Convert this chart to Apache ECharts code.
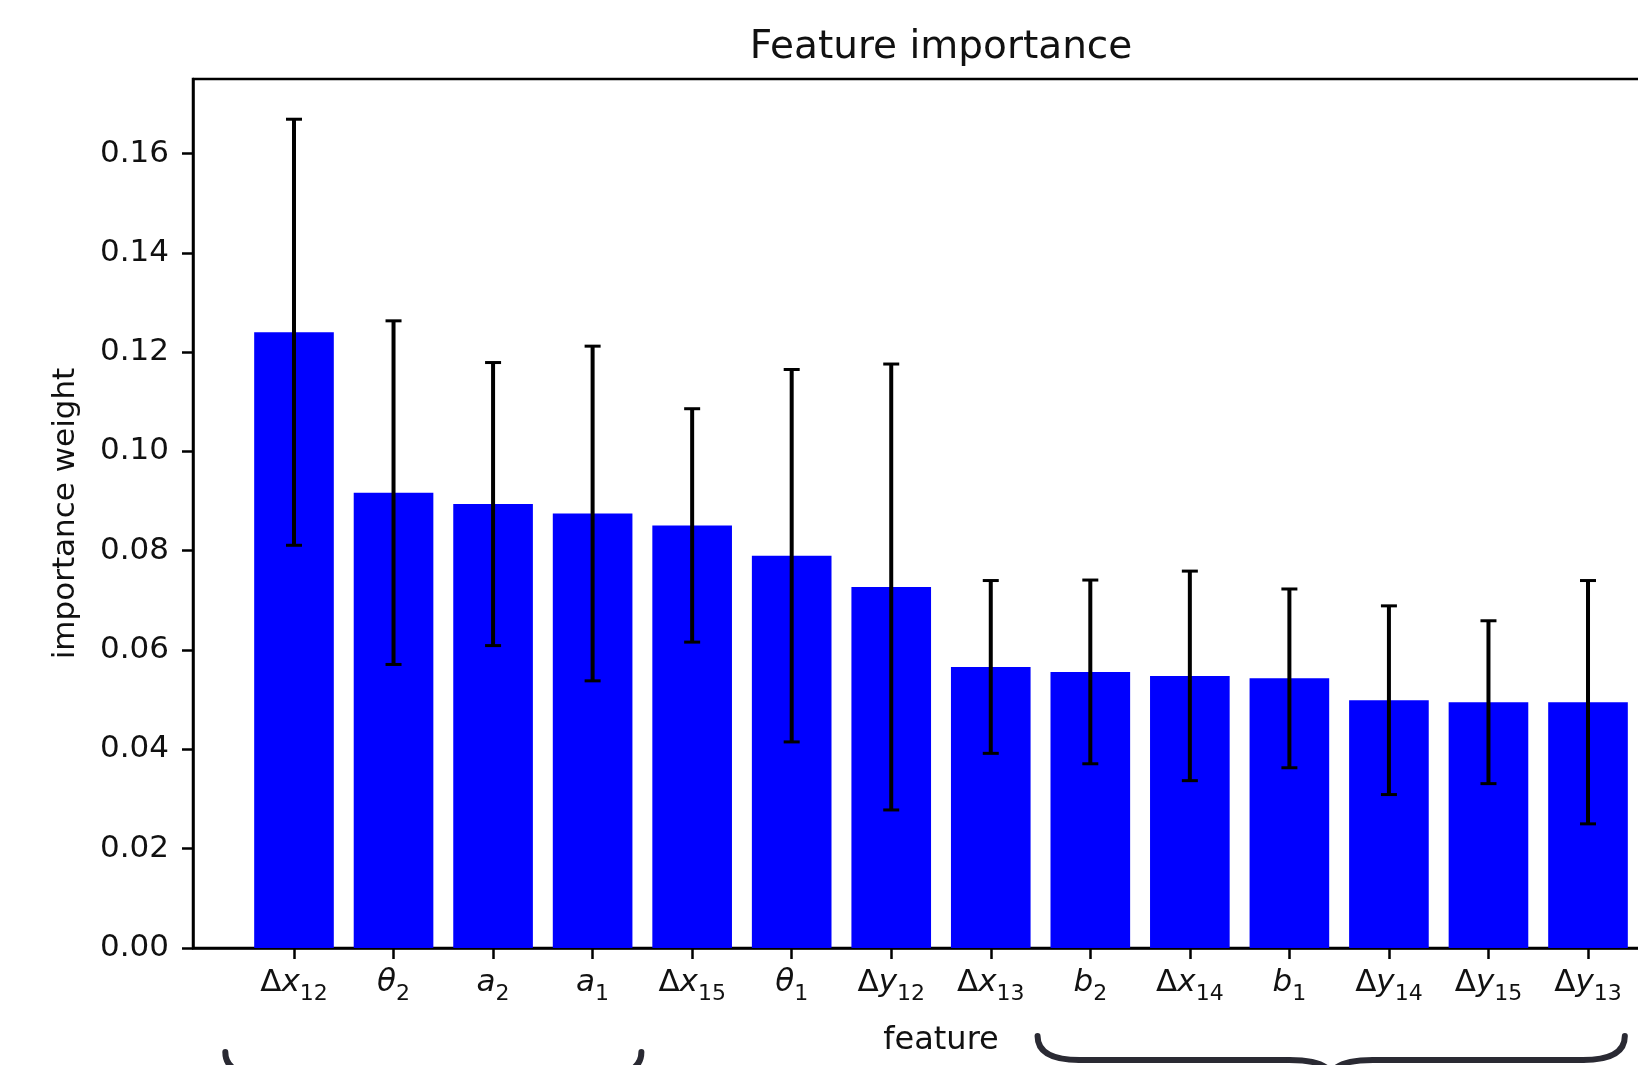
<!DOCTYPE html>
<html>
<head>
<meta charset="utf-8">
<script src="https://cdn.jsdelivr.net/npm/echarts@6/dist/echarts.min.js"></script>
<style>
  html, body { margin: 0; padding: 0; background: #fff; }
  #chart { width: 1638px; height: 1065px; }
</style>
</head>
<body>
<div id="chart"></div>
<script>
// Feature names: prefix (upright), symbol (italic), subscript
const categories = [
  ['Δ', 'x', '12'], ['', 'θ', '2'], ['', 'a', '2'], ['', 'a', '1'],
  ['Δ', 'x', '15'], ['', 'θ', '1'], ['Δ', 'y', '12'], ['Δ', 'x', '13'],
  ['', 'b', '2'], ['Δ', 'x', '14'], ['', 'b', '1'], ['Δ', 'y', '14'],
  ['Δ', 'y', '15'], ['Δ', 'y', '13']
];
// Mean importance weight per feature
const importance = [0.1240, 0.0917, 0.0894, 0.0875, 0.0851, 0.0790, 0.0727,
                    0.0566, 0.0556, 0.0548, 0.0543, 0.0499, 0.0495, 0.0495];
// Standard deviation (error bar half-length)
const stdDev = [0.0429, 0.0346, 0.0285, 0.0337, 0.0235, 0.0375, 0.0449,
                0.0174, 0.0185, 0.0211, 0.0180, 0.0190, 0.0164, 0.0245];
const yTicks = [0, 0.02, 0.04, 0.06, 0.08, 0.10, 0.12, 0.14, 0.16];
// Feature groups marked by braces under the axis (in feature-index units)
const braceSpans = [[-0.69, 3.49], [7.47, 13.37]];

const FONT = 'DejaVu Sans';
const TXT = '#111';
const xTickValues = categories.map((_, i) => i);

function labelFor(i) {
  const c = categories[i];
  if (!c) return '';
  return (c[0] ? '{up|' + c[0] + '}' : '') + '{it|' + c[1] + '}{sub|' + c[2] + '}';
}

const chart = echarts.init(document.getElementById('chart'), null, { renderer: 'canvas' });

const option = {
  backgroundColor: '#fff',
  animation: false,
  title: {
    text: 'Feature importance',
    left: 936,
    textAlign: 'center',
    top: 23,
    textStyle: { fontFamily: FONT, fontSize: 39, fontWeight: 'normal', color: TXT }
  },
  grid: {
    left: 193, top: 79, width: 1496, height: 869,
    outerBoundsMode: 'none',
    containLabel: false,
    show: true, borderColor: '#000', borderWidth: 2.5, backgroundColor: 'transparent'
  },
  xAxis: {
    type: 'value',
    min: -1.0146, max: 14.0146,
    name: 'feature',
    nameLocation: 'middle',
    nameGap: 77,
    nameTextStyle: { fontFamily: FONT, fontSize: 32, color: TXT },
    splitLine: { show: false },
    axisLine: { show: true, onZero: false, lineStyle: { color: '#000', width: 2.5 } },
    axisTick: { show: true, length: 11, lineStyle: { color: '#000', width: 2.5 }, customValues: xTickValues },
    axisLabel: {
      customValues: xTickValues,
      margin: 13,
      formatter: (v) => labelFor(Math.round(v)),
      rich: {
        up: { fontFamily: FONT, fontSize: 31, color: TXT, lineHeight: 32 },
        it: { fontFamily: FONT, fontSize: 31, fontStyle: 'italic', color: TXT, lineHeight: 32 },
        sub: { fontFamily: FONT, fontSize: 22, color: TXT, lineHeight: 44, verticalAlign: 'bottom' }
      }
    }
  },
  yAxis: {
    type: 'value',
    min: 0, max: 0.175,
    name: 'importance weight',
    nameLocation: 'middle',
    nameGap: 112,
    nameTextStyle: { fontFamily: FONT, fontSize: 31, color: TXT },
    splitLine: { show: false },
    axisLine: { show: true, onZero: false, lineStyle: { color: '#000', width: 2.5 } },
    axisTick: { show: true, length: 11, lineStyle: { color: '#000', width: 2.5 }, customValues: yTicks },
    axisLabel: {
      customValues: yTicks,
      margin: 24,
      fontFamily: FONT, fontSize: 31, color: TXT,
      formatter: (v) => v.toFixed(2)
    }
  },
  series: [
    {
      type: 'custom',
      name: 'importance',
      data: importance.map((v, i) => [i, v]),
      encode: { x: 0, y: 1 },
      renderItem: (params, api) => {
        const base = api.coord([api.value(0), 0]);
        const top = api.coord([api.value(0), api.value(1)]);
        const w = api.size([0.8, 0])[0];
        return {
          type: 'rect',
          shape: { x: top[0] - w / 2, y: top[1], width: w, height: base[1] - top[1] },
          style: { fill: '#0000ff' }
        };
      },
      z: 2
    },
    {
      type: 'custom',
      name: 'std',
      data: importance.map((v, i) => [i, v - stdDev[i], v + stdDev[i]]),
      encode: { x: 0, y: [1, 2] },
      renderItem: (params, api) => {
        const lo = api.coord([api.value(0), api.value(1)]);
        const hi = api.coord([api.value(0), api.value(2)]);
        const cap = 8;
        const ls = { stroke: '#000', lineWidth: 4 };
        const cs = { stroke: '#000', lineWidth: 3 };
        return {
          type: 'group',
          children: [
            { type: 'line', shape: { x1: hi[0], y1: hi[1], x2: lo[0], y2: lo[1] }, style: ls },
            { type: 'line', shape: { x1: hi[0] - cap, y1: hi[1], x2: hi[0] + cap, y2: hi[1] }, style: cs },
            { type: 'line', shape: { x1: lo[0] - cap, y1: lo[1], x2: lo[0] + cap, y2: lo[1] }, style: cs }
          ]
        };
      },
      z: 3
    }
  ]
};

chart.setOption(option);

// Curly braces grouping features beneath the axis, built from curve and line pieces
function braceParts(x0, x1, yTop) {
  const xc = (x0 + x1) / 2;
  const yMid = yTop + 24;
  const tip = yMid + 18;
  const r = 42;
  const style = { fill: 'none', stroke: '#2a2a33', lineWidth: 6, lineCap: 'round' };
  const curve = (a, b, c, d, e, f) => ({
    type: 'bezierCurve',
    shape: { x1: a, y1: b, cpx1: c, cpy1: d, x2: e, y2: f },
    style: style, z: 10
  });
  const seg = (a, b, c, d) => ({
    type: 'line', shape: { x1: a, y1: b, x2: c, y2: d }, style: style, z: 10
  });
  return [
    curve(x0, yTop, x0, yMid, x0 + r, yMid),
    seg(x0 + r, yMid, xc - r, yMid),
    curve(xc - r, yMid, xc, yMid, xc, tip),
    curve(xc, tip, xc, yMid, xc + r, yMid),
    seg(xc + r, yMid, x1 - r, yMid),
    curve(x1 - r, yMid, x1, yMid, x1, yTop)
  ];
}
const braceTops = [1052, 1036];
let braceElements = [];
braceSpans.forEach((span, k) => {
  const x0 = chart.convertToPixel({ xAxisIndex: 0 }, span[0]);
  const x1 = chart.convertToPixel({ xAxisIndex: 0 }, span[1]);
  braceElements = braceElements.concat(braceParts(x0, x1, braceTops[k]));
});
chart.setOption({ graphic: braceElements });
</script>
</body>
</html>
